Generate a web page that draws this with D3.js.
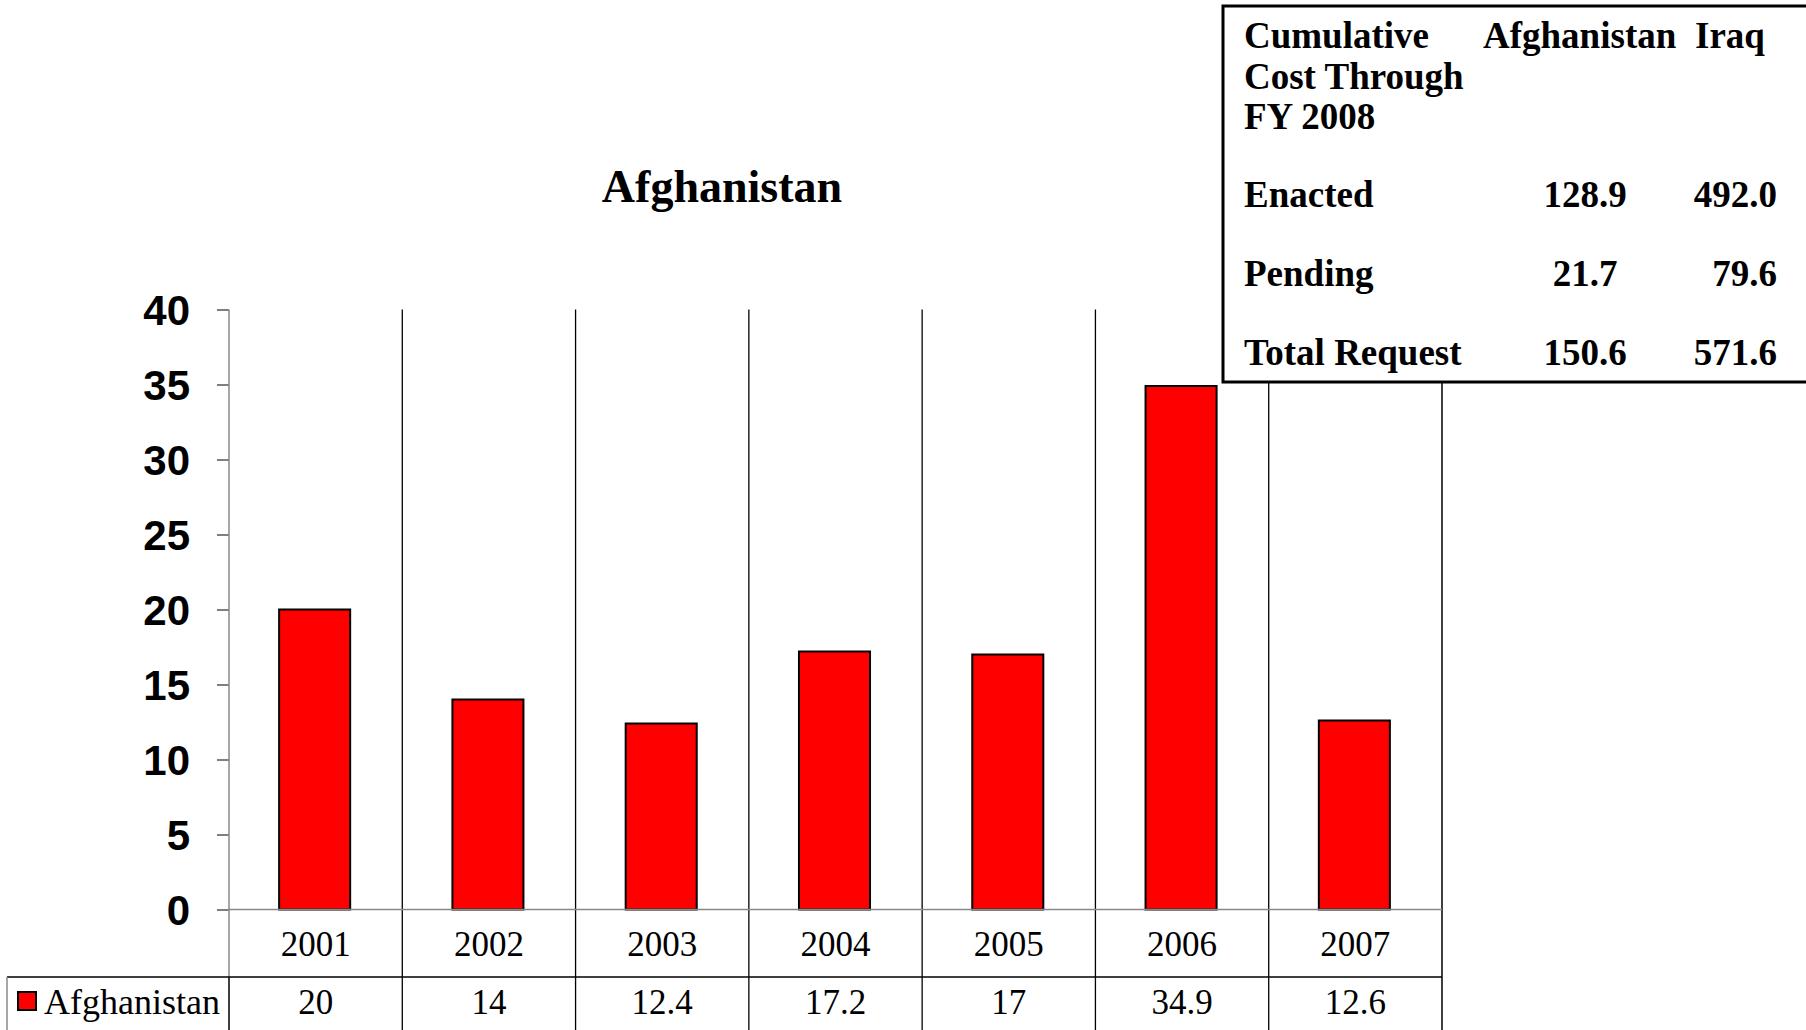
<!DOCTYPE html>
<html><head><meta charset="utf-8">
<script src="https://cdn.jsdelivr.net/npm/d3@7"></script>
<style>body{margin:0;background:#fff}svg{display:block}</style>
</head><body>
<script>
const years = ["2001","2002","2003","2004","2005","2006","2007"];
const values = [20, 14, 12.4, 17.2, 17, 34.9, 12.6];
const seriesName = "Afghanistan";
const yTicks = [0,5,10,15,20,25,30,35,40];
const boxHeader = ["Cumulative\nCost Through\nFY 2008", "Afghanistan", "Iraq"];
const boxRows = ["Enacted", "Pending", "Total Request"];
const boxAfghanistan = ["128.9", "21.7", "150.6"];
const boxIraq = ["492.0", "79.6", "571.6"];

(function(){
const W = 1806, H = 1030;
const svg = d3.select("body").append("svg").attr("width", W).attr("height", H);

const plotLeft = 229, plotRight = 1442, plotTop = 309.5, zeroY = 909.5;
const x = d3.scaleBand().domain(years).range([plotLeft, plotRight]).paddingInner(0).paddingOuter(0);
const y = d3.scaleLinear().domain([0, 40]).range([zeroY, plotTop]);
const rowBottom = 977, tableBottom = 1030;
const serif = "'Liberation Serif','Times New Roman',serif";

// title
svg.append("text").attr("x", 722).attr("y", 202).attr("text-anchor","middle")
  .attr("font-family", serif).attr("font-weight","bold").attr("font-size", 46)
  .text(seriesName);

// bars
const barW = x.bandwidth() * 0.41;
svg.selectAll("rect.bar").data(values).join("rect").attr("class","bar")
  .attr("x", (d,i) => x(years[i]) + (x.bandwidth()-barW)/2 - 1)
  .attr("width", barW)
  .attr("y", d => y(d))
  .attr("height", d => y(0) - y(d))
  .attr("fill", "#ff0000").attr("stroke", "#000").attr("stroke-width", 2);

// y axis
const yAxis = d3.axisLeft(y).tickValues(yTicks).tickSize(12).tickPadding(27);
const gy = svg.append("g").attr("transform", `translate(${plotLeft},0)`).call(yAxis);
gy.select(".domain").remove();
gy.selectAll(".tick line").attr("stroke", "#555").attr("stroke-width", 1.5);
gy.selectAll(".tick text").attr("font-family","'Liberation Sans',Arial,sans-serif")
  .attr("font-weight","bold").attr("font-size", 42).attr("fill","#000").attr("dy","0.36em");

// grid / table lines
const lines = svg.append("g");
years.forEach((yr, i) => {
  if (i === 0) return;
  lines.append("line").attr("x1", x(yr)).attr("x2", x(yr)).attr("y1", plotTop).attr("y2", tableBottom)
    .attr("stroke", "#000").attr("stroke-width", 1.3);
});
lines.append("line").attr("x1", plotRight).attr("x2", plotRight).attr("y1", plotTop).attr("y2", tableBottom)
  .attr("stroke","#000").attr("stroke-width", 1.5);
lines.append("line").attr("x1", plotLeft).attr("x2", plotLeft).attr("y1", plotTop).attr("y2", rowBottom)
  .attr("stroke","#888").attr("stroke-width", 1.5);
lines.append("line").attr("x1", plotLeft).attr("x2", plotLeft).attr("y1", rowBottom).attr("y2", tableBottom)
  .attr("stroke","#000").attr("stroke-width", 1.5);
lines.append("line").attr("x1", plotLeft).attr("x2", plotRight).attr("y1", zeroY).attr("y2", zeroY)
  .attr("stroke","#888").attr("stroke-width", 1.5);
lines.append("line").attr("x1", 7).attr("x2", plotRight).attr("y1", rowBottom).attr("y2", rowBottom)
  .attr("stroke","#000").attr("stroke-width", 1.3);
lines.append("line").attr("x1", 7).attr("x2", 7).attr("y1", rowBottom).attr("y2", tableBottom)
  .attr("stroke","#888").attr("stroke-width", 1.5);

// year labels
svg.selectAll("text.year").data(years).join("text").attr("class","year")
  .attr("x", d => x(d) + x.bandwidth()/2).attr("y", 956)
  .attr("text-anchor","middle").attr("font-family", serif).attr("font-size", 35)
  .text(d => d);

// data row values
svg.selectAll("text.val").data(values).join("text").attr("class","val")
  .attr("x", (d,i) => x(years[i]) + x.bandwidth()/2).attr("y", 1014)
  .attr("text-anchor","middle").attr("font-family", serif).attr("font-size", 35)
  .text(d => String(d));

// legend key
svg.append("rect").attr("x", 18).attr("y", 992).attr("width", 18).attr("height", 18)
  .attr("fill","#ff0000").attr("stroke","#000").attr("stroke-width", 2);
svg.append("text").attr("x", 44).attr("y", 1014).attr("font-family", serif).attr("font-size", 36)
  .text(seriesName);

// cumulative cost box
const box = svg.append("g");
box.append("rect").attr("x", 1223).attr("y", 6).attr("width", 620).attr("height", 376)
  .attr("fill","#fff").attr("stroke","#000").attr("stroke-width", 3);
function btext(t, xx, yy, anchor) {
  return box.append("text").attr("x", xx).attr("y", yy).attr("text-anchor", anchor || "start")
    .attr("font-family", serif).attr("font-weight", "bold").attr("font-size", 37).text(t);
}
boxHeader[0].split("\n").forEach((ln, i) => btext(ln, 1244, 48 + i*40.5));
btext(boxHeader[1], 1483, 48);
btext(boxHeader[2], 1695, 48);
const rowYs = [207, 286, 365];
boxRows.forEach((r, i) => {
  btext(r, 1244, rowYs[i]);
  btext(boxAfghanistan[i], 1585, rowYs[i], "middle");
  btext(boxIraq[i], 1777, rowYs[i], "end");
});
})();
</script>
</body></html>
